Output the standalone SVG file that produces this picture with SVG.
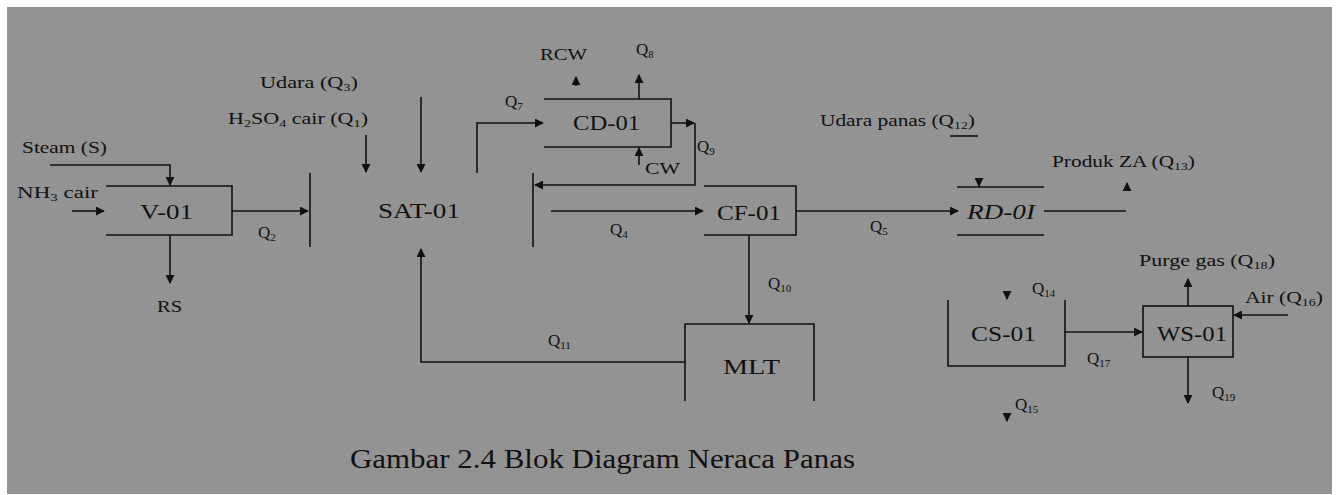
<svg xmlns="http://www.w3.org/2000/svg" width="1338" height="495" viewBox="0 0 1338 495">
<defs>
<style>
.ln{fill:none;stroke:#111;stroke-width:1.6}
.t{font-family:"Liberation Serif","Times New Roman",serif;fill:#111;font-size:17px}
.big{font-size:21px}
.cap{font-size:27px}
.sub{font-size:11px}
.head{fill:#111;stroke:none}
</style>
<marker id="ah" viewBox="0 0 10 10" refX="9" refY="5" markerWidth="9" markerHeight="9" markerUnits="userSpaceOnUse" orient="auto">
<path d="M0,0 L10,5 L0,10 Z" class="head"/>
</marker>
</defs>
<rect x="0" y="0" width="1338" height="495" fill="#ffffff"/>
<rect x="7" y="7" width="1325" height="487" fill="#939393"/>

<g id="connectors">
<path class="ln" d="M50,165 H170 V185" marker-end="url(#ah)"/>
<path class="ln" d="M72,211 H104" marker-end="url(#ah)"/>
<path class="ln" d="M232,211 H308" marker-end="url(#ah)"/>
<path class="ln" d="M170,235 V283" marker-end="url(#ah)"/>
<path class="ln" d="M366,135 V172" marker-end="url(#ah)"/>
<path class="ln" d="M421,97 V172" marker-end="url(#ah)"/>
<path class="ln" d="M477,173 V123 H543" marker-end="url(#ah)"/>
<path class="ln" d="M576,86 V77" marker-end="url(#ah)"/>
<path class="ln" d="M639,99 V75" marker-end="url(#ah)"/>
<path class="ln" d="M639,165 V148" marker-end="url(#ah)"/>
<path class="ln" d="M671,123 H694" marker-end="url(#ah)"/>
<path class="ln" d="M695,123 V185 H535" marker-end="url(#ah)"/>
<path class="ln" d="M551,211 H703" marker-end="url(#ah)"/>
<path class="ln" d="M796,211 H958" marker-end="url(#ah)"/>
<path class="ln" d="M950,136 H978"/>
<path class="ln" d="M979,180 V186" marker-end="url(#ah)"/>
<path class="ln" d="M1044,211 H1126"/>
<path class="ln" d="M1127,190 V183" marker-end="url(#ah)"/>
<path class="ln" d="M749,235 V323" marker-end="url(#ah)"/>
<path class="ln" d="M685,362 H421 V249" marker-end="url(#ah)"/>
<path class="ln" d="M1007,292 V299" marker-end="url(#ah)"/>
<path class="ln" d="M1007,414 V421" marker-end="url(#ah)"/>
<path class="ln" d="M1065,332 H1142" marker-end="url(#ah)"/>
<path class="ln" d="M1188,306 V279" marker-end="url(#ah)"/>
<path class="ln" d="M1288,315 H1234" marker-end="url(#ah)"/>
<path class="ln" d="M1188,357 V403" marker-end="url(#ah)"/>
</g>

<g id="V-01">
<path class="ln" d="M106,186 H232 V235 H106"/>
<text class="t big" x="140" y="219" textLength="53" lengthAdjust="spacingAndGlyphs">V-01</text>
</g>

<g id="SAT-01">
<path class="ln" d="M310,173 V247"/>
<path class="ln" d="M533,173 V247"/>
<text class="t big" x="378" y="218" textLength="82" lengthAdjust="spacingAndGlyphs">SAT-01</text>
</g>

<g id="CD-01">
<path class="ln" d="M544,99 H671 V147 H544"/>
<text class="t big" x="573" y="130" textLength="67" lengthAdjust="spacingAndGlyphs">CD-01</text>
</g>

<g id="CF-01">
<path class="ln" d="M704,186 H796 V235 H704"/>
<text class="t big" x="717" y="220" textLength="64" lengthAdjust="spacingAndGlyphs">CF-01</text>
</g>

<g id="RD-01">
<path class="ln" d="M957,187 H1044"/>
<path class="ln" d="M957,235 H1044"/>
<text class="t big" x="967" y="219" font-style="italic" textLength="68" lengthAdjust="spacingAndGlyphs">RD-0I</text>
</g>

<g id="MLT">
<path class="ln" d="M685,401 V324 H814 V401"/>
<text class="t big" x="723" y="374" textLength="57" lengthAdjust="spacingAndGlyphs">MLT</text>
</g>

<g id="CS-01">
<path class="ln" d="M948,300 V366 H1065 V300"/>
<text class="t big" x="971" y="341" textLength="65" lengthAdjust="spacingAndGlyphs">CS-01</text>
</g>

<g id="WS-01">
<rect class="ln" x="1143" y="306" width="90" height="51"/>
<text class="t big" x="1157" y="341" textLength="70" lengthAdjust="spacingAndGlyphs">WS-01</text>
</g>

<g id="labels">
<text class="t" x="260" y="88" textLength="98" lengthAdjust="spacingAndGlyphs">Udara (Q<tspan class="sub" dy="3">3</tspan><tspan dy="-3">)</tspan></text>
<text class="t" x="228" y="124" textLength="140" lengthAdjust="spacingAndGlyphs">H<tspan class="sub" dy="3">2</tspan><tspan dy="-3">SO</tspan><tspan class="sub" dy="3">4</tspan><tspan dy="-3"> cair (Q</tspan><tspan class="sub" dy="3">1</tspan><tspan dy="-3">)</tspan></text>
<text class="t" x="22" y="153" textLength="85" lengthAdjust="spacingAndGlyphs">Steam (S)</text>
<text class="t" x="17" y="198" textLength="81" lengthAdjust="spacingAndGlyphs">NH<tspan class="sub" dy="3">3</tspan><tspan dy="-3"> cair</tspan></text>
<text class="t" x="258" y="238">Q<tspan class="sub" dy="3">2</tspan></text>
<text class="t" x="157" y="312" textLength="25" lengthAdjust="spacingAndGlyphs">RS</text>
<text class="t" x="540" y="60" textLength="47" lengthAdjust="spacingAndGlyphs">RCW</text>
<text class="t" x="636" y="55">Q<tspan class="sub" dy="3">8</tspan></text>
<text class="t" x="505" y="107">Q<tspan class="sub" dy="3">7</tspan></text>
<text class="t" x="697" y="152">Q<tspan class="sub" dy="3">9</tspan></text>
<text class="t" x="645" y="174" textLength="35" lengthAdjust="spacingAndGlyphs">CW</text>
<text class="t" x="610" y="235">Q<tspan class="sub" dy="3">4</tspan></text>
<text class="t" x="870" y="232">Q<tspan class="sub" dy="3">5</tspan></text>
<text class="t" x="820" y="126" textLength="155" lengthAdjust="spacingAndGlyphs">Udara panas (Q<tspan class="sub" dy="3">12</tspan><tspan dy="-3">)</tspan></text>
<text class="t" x="1052" y="167" textLength="143" lengthAdjust="spacingAndGlyphs">Produk ZA (Q<tspan class="sub" dy="3">13</tspan><tspan dy="-3">)</tspan></text>
<text class="t" x="768" y="289">Q<tspan class="sub" dy="3">10</tspan></text>
<text class="t" x="548" y="346">Q<tspan class="sub" dy="3">11</tspan></text>
<text class="t" x="1032" y="294">Q<tspan class="sub" dy="3">14</tspan></text>
<text class="t" x="1015" y="410">Q<tspan class="sub" dy="3">15</tspan></text>
<text class="t" x="1087" y="364">Q<tspan class="sub" dy="3">17</tspan></text>
<text class="t" x="1139" y="266" textLength="136" lengthAdjust="spacingAndGlyphs">Purge gas (Q<tspan class="sub" dy="3">18</tspan><tspan dy="-3">)</tspan></text>
<text class="t" x="1245" y="303" textLength="78" lengthAdjust="spacingAndGlyphs">Air (Q<tspan class="sub" dy="3">16</tspan><tspan dy="-3">)</tspan></text>
<text class="t" x="1212" y="398">Q<tspan class="sub" dy="3">19</tspan></text>
<text class="t cap" x="350" y="468" textLength="505" lengthAdjust="spacingAndGlyphs">Gambar 2.4 Blok Diagram Neraca Panas</text>
</g>
</svg>
